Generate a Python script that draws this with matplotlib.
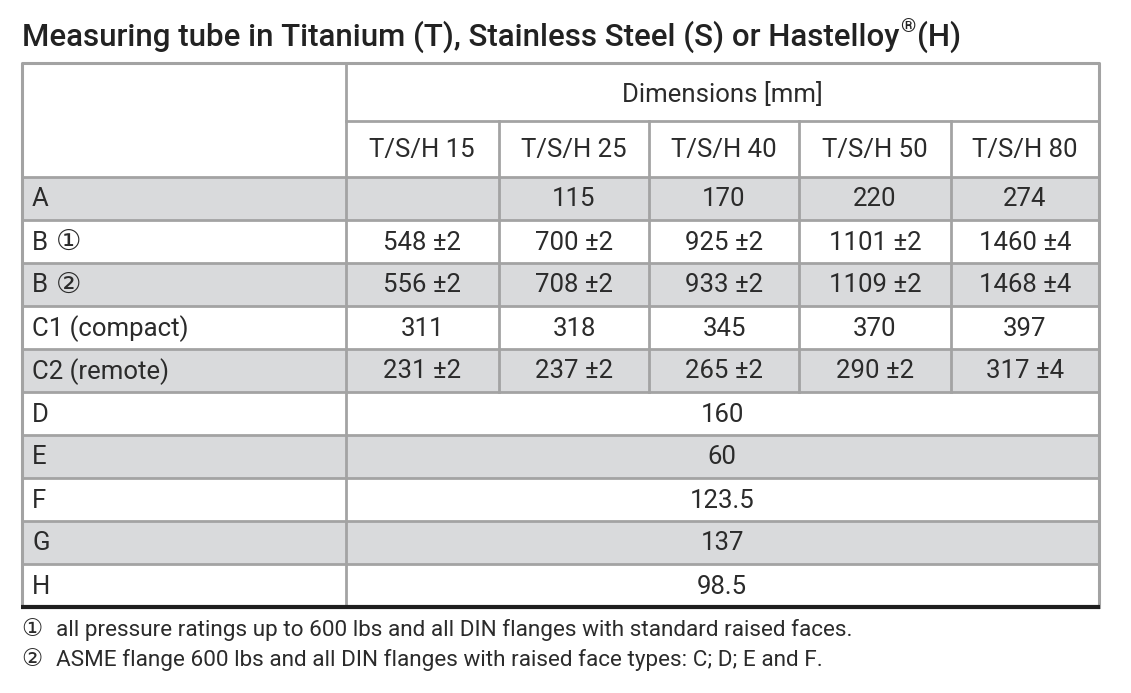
import matplotlib.pyplot as plt
from matplotlib.patches import Rectangle

plt.rcParams['font.family'] = ['Roboto', 'DejaVu Sans']

# table content
title_parts = ['Measuring tube in Titanium (T), Stainless Steel (S) or Hastelloy', '\u00ae', '(H)']
group_header = 'Dimensions [mm]'
col_labels = ['T/S/H 15', 'T/S/H 25', 'T/S/H 40', 'T/S/H 50', 'T/S/H 80']
row_labels = ['A', 'B  \u2460', 'B  \u2461', 'C1 (compact)', 'C2 (remote)',
              'D', 'E', 'F', 'G', 'H']
row_A = ['', '115', '170', '220', '274']
row_B1 = ['548 \u00b12', '700 \u00b12', '925 \u00b12', '1101 \u00b12', '1460 \u00b14']
row_B2 = ['556 \u00b12', '708 \u00b12', '933 \u00b12', '1109 \u00b12', '1468 \u00b14']
row_C1 = ['311', '318', '345', '370', '397']
row_C2 = ['231 \u00b12', '237 \u00b12', '265 \u00b12', '290 \u00b12', '317 \u00b14']
# rows with one value for all sizes
merged = {'D': '160', 'E': '60', 'F': '123.5', 'G': '137', 'H': '98.5'}
note_marks = ['\u2460', '\u2461']
footnotes = ['all pressure ratings up to 600 lbs and all DIN flanges with standard raised faces.',
             'ASME flange 600 lbs and all DIN flanges with raised face types: C; D; E and F.']

# layout (pixels)
W, H = 1131, 693
x_edges = [21.5, 345.5, 499, 649, 799, 951, 1099]
y_top, y_mid, y_head = 63, 121, 177
row_h = 43
grey = '#d9dadc'
line_c = '#a3a3a3'
txt_c = '#2b2b2b'
body_fs = 18.5

fig = plt.figure(figsize=(W / 100, H / 100), dpi=100)
ax = fig.add_axes([0, 0, 1, 1])
ax.set_xlim(0, W)
ax.set_ylim(H, 0)
ax.axis('off')

# title in pieces so the (R) sits as a tight superscript
renderer = fig.canvas.get_renderer()
t1 = ax.text(22, 37, title_parts[0], fontsize=22.5, color='#222222', va='center', ha='left',
             fontweight='medium')
bb = t1.get_window_extent(renderer)
x_end = ax.transData.inverted().transform((bb.x1, 0))[0]
t2 = ax.text(x_end + 1, 27, title_parts[1], fontsize=14, color='#222222', va='center', ha='left',
             fontweight='medium')
bb2 = t2.get_window_extent(renderer)
x_end2 = ax.transData.inverted().transform((bb2.x1, 0))[0]
ax.text(x_end2 + 1, 37, title_parts[2], fontsize=22.5, color='#222222', va='center', ha='left',
        fontweight='medium')

split_rows = [row_A, row_B1, row_B2, row_C1, row_C2]
x0, x1 = x_edges[0], x_edges[-1]

for i, lab in enumerate(row_labels):
    top = y_head + i * row_h
    if i % 2 == 0:
        ax.add_patch(Rectangle((x0, top), x1 - x0, row_h, facecolor=grey, edgecolor='none', zorder=0))
    cy = top + row_h / 2 + 1
    if lab[0] == 'B':
        ax.text(32, cy, 'B', fontsize=body_fs, color=txt_c, va='center', ha='left')
        ax.text(56, cy, lab[-1], fontsize=body_fs + 2, color=txt_c, va='center', ha='left')
    else:
        ax.text(32, cy, lab, fontsize=body_fs, color=txt_c, va='center', ha='left')
    if i < len(split_rows):
        for j, v in enumerate(split_rows[i]):
            cx = (x_edges[j + 1] + x_edges[j + 2]) / 2
            ax.text(cx, cy, v, fontsize=body_fs, color=txt_c, va='center', ha='center')
        for xe in x_edges[2:-1]:
            ax.plot([xe, xe], [top, top + row_h], color=line_c, lw=2, zorder=2)
    else:
        cx = (x_edges[1] + x_edges[-1]) / 2
        ax.text(cx, cy, merged[lab], fontsize=body_fs, color=txt_c, va='center', ha='center')
    if i > 0:
        ax.plot([x0, x1], [top, top], color=line_c, lw=2, zorder=2)

# header
ax.text((x_edges[1] + x1) / 2, (y_top + y_mid) / 2 + 2, group_header,
        fontsize=body_fs, color=txt_c, va='center', ha='center')
for j, c in enumerate(col_labels):
    cx = (x_edges[j + 1] + x_edges[j + 2]) / 2
    ax.text(cx, (y_mid + y_head) / 2 + 1, c, fontsize=body_fs, color=txt_c, va='center', ha='center')
for xe in x_edges[2:-1]:
    ax.plot([xe, xe], [y_mid, y_head], color=line_c, lw=2, zorder=2)
ax.plot([x_edges[1], x1], [y_mid, y_mid], color=line_c, lw=2, zorder=2)
ax.plot([x0, x1], [y_head, y_head], color=line_c, lw=2, zorder=2)

y_bot = y_head + len(row_labels) * row_h
# outer border + first column divider
ax.plot([x0, x0, x1, x1], [y_bot, y_top, y_top, y_bot], color=line_c, lw=2.2, zorder=2)
ax.plot([x_edges[1], x_edges[1]], [y_top, y_bot], color=line_c, lw=2, zorder=2)
ax.plot([x0 - 1, x1 + 1], [y_bot, y_bot], color='#1e1e1e', lw=3, zorder=3, solid_capstyle='butt')

for k, note in enumerate(footnotes):
    ax.text(21, 630 + k * 30, note_marks[k], fontsize=17, color=txt_c, va='center', ha='left')
    ax.text(56, 630 + k * 30, note, fontsize=16.2, color=txt_c, va='center', ha='left')

fig.savefig('out.png', dpi=100)
